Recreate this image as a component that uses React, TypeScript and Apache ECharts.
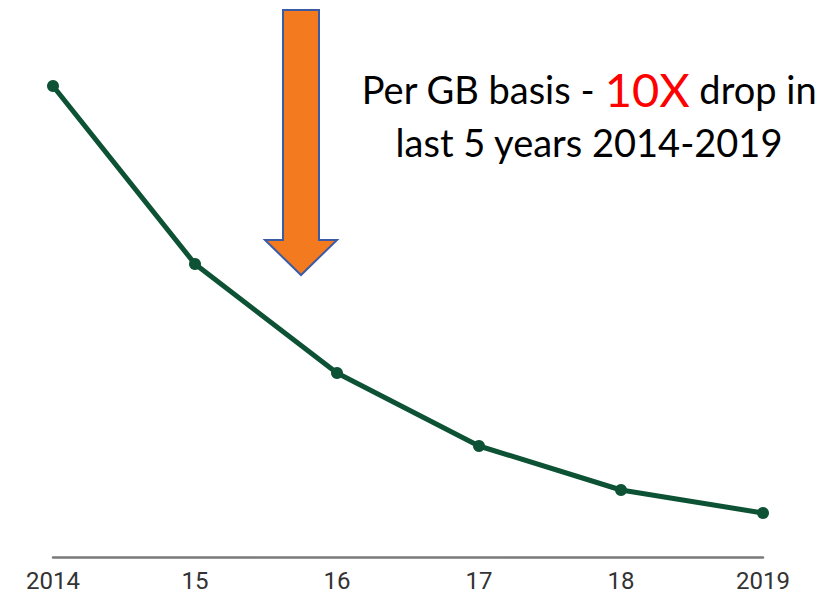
import React, { useEffect, useRef } from "react";
import * as echarts from "echarts";

const years = ["2014", "15", "16", "17", "18", "2019"];
const pricePerGB = [471, 293, 184, 111, 67, 44];

export default function App() {
  const ref = useRef<HTMLDivElement>(null);
  useEffect(() => {
    if (!ref.current) return;
    const chart = echarts.init(ref.current, null, { renderer: "svg" });
    chart.setOption({
      animation: false,
      backgroundColor: "#ffffff",
      grid: { left: 53, right: 77, top: 57, bottom: 37 },
      xAxis: {
        type: "category",
        data: years,
        boundaryGap: false,
        axisLine: { lineStyle: { color: "#7a7a7a", width: 2.5 } },
        axisTick: { show: false },
        axisLabel: {
          color: "#333333",
          fontSize: 24,
          fontFamily: "Roboto",
          margin: 12,
        },
      },
      yAxis: {
        type: "value",
        min: 0,
        max: 500,
        show: false,
        splitLine: { show: false },
      },
      series: [
        {
          type: "line",
          data: pricePerGB,
          symbol: "circle",
          symbolSize: 12,
          lineStyle: { color: "#0d5234", width: 5 },
          itemStyle: { color: "#0d5234" },
        },
      ],
      graphic: [
        {
          type: "polygon",
          shape: {
            points: [
              [283, 10],
              [319, 10],
              [319, 240],
              [337, 240],
              [301, 275],
              [265, 240],
              [283, 240],
            ],
          },
          style: { fill: "#f47a20", stroke: "#3b5ba5", lineWidth: 2 },
        },
        {
          type: "text",
          x: 589,
          y: 89,
          style: {
            text: "{a|Per GB basis - }{r|10X}{a| drop in}",
            align: "center",
            verticalAlign: "middle",
            rich: {
              a: { fontSize: 38, fontFamily: "Lato", fill: "#000000" },
              r: { fontSize: 47, fontFamily: "Lato", fill: "#ff0000" },
            },
          },
        },
        {
          type: "text",
          x: 589,
          y: 142,
          style: {
            text: "last 5 years 2014-2019",
            align: "center",
            verticalAlign: "middle",
            fontSize: 38,
            fontFamily: "Lato",
            fill: "#000000",
          },
        },
      ],
    });
    return () => chart.dispose();
  }, []);
  return (
    <div
      ref={ref}
      style={{ position: "fixed", left: 0, top: 0, width: 840, height: 594 }}
    />
  );
}
